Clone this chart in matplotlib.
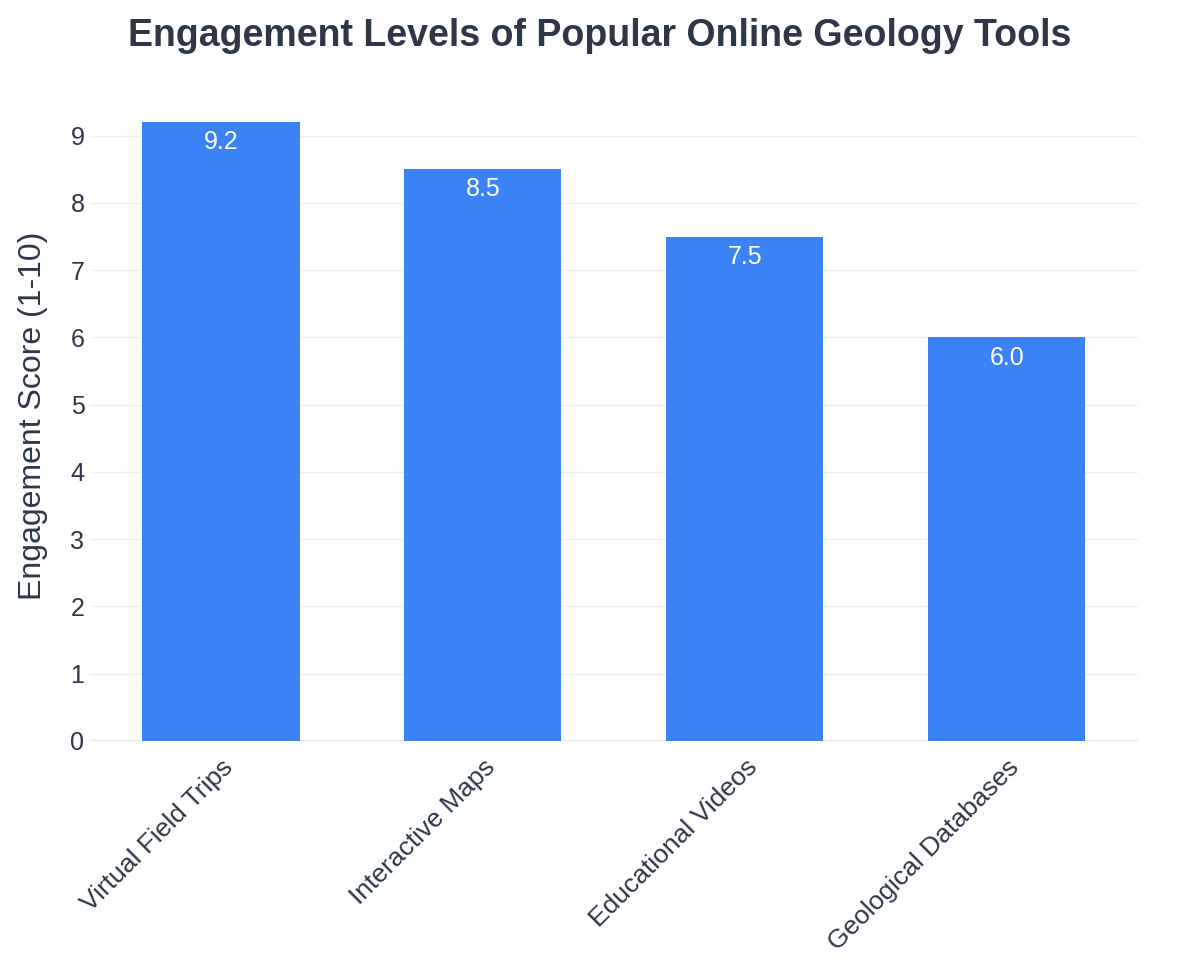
import matplotlib.pyplot as plt

plt.rcParams['font.family'] = ['Liberation Sans', 'DejaVu Sans']

tools = ["Virtual Field Trips", "Interactive Maps", "Educational Videos", "Geological Databases"]
scores = [9.2, 8.5, 7.5, 6.0]

text_color = "#2d3748"
bar_color = "#3b82f6"

fig = plt.figure(figsize=(12, 9.75), dpi=100)
ax = fig.add_axes([0.075, 0.24, 0.873, 0.668])

x = range(len(tools))
bars = ax.bar(x, scores, width=0.6, color=bar_color, zorder=3)

for b, v in zip(bars, scores):
    ax.text(b.get_x() + b.get_width() / 2, v - 0.12, f"{v:.1f}",
            ha="center", va="top", color="white", fontsize=18)

ax.set_xlim(-0.5, len(tools) - 0.5)
ax.set_ylim(0, max(scores) * 1.0526)
ax.set_yticks(range(0, 10))
ax.yaxis.grid(True, color="#eceff3", linewidth=1, zorder=0)
ax.axhline(0, color="#e2e8f0", linewidth=2.5, zorder=2)

for s in ax.spines.values():
    s.set_visible(False)
ax.tick_params(axis="both", length=0, labelsize=18, colors=text_color)
ax.tick_params(axis="x", labelsize=19, pad=10)
ax.tick_params(axis="y", pad=4)
ax.set_xticks(list(x))
ax.set_xticklabels(tools, rotation=45, ha="right", rotation_mode="anchor")
ax.set_ylabel("Engagement Score (1-10)", fontsize=23, color=text_color, labelpad=16)

fig.suptitle("Engagement Levels of Popular Online Geology Tools",
             fontsize=27, fontweight="bold", color=text_color, y=0.982)

fig.savefig("out.png", dpi=100, facecolor="white")
